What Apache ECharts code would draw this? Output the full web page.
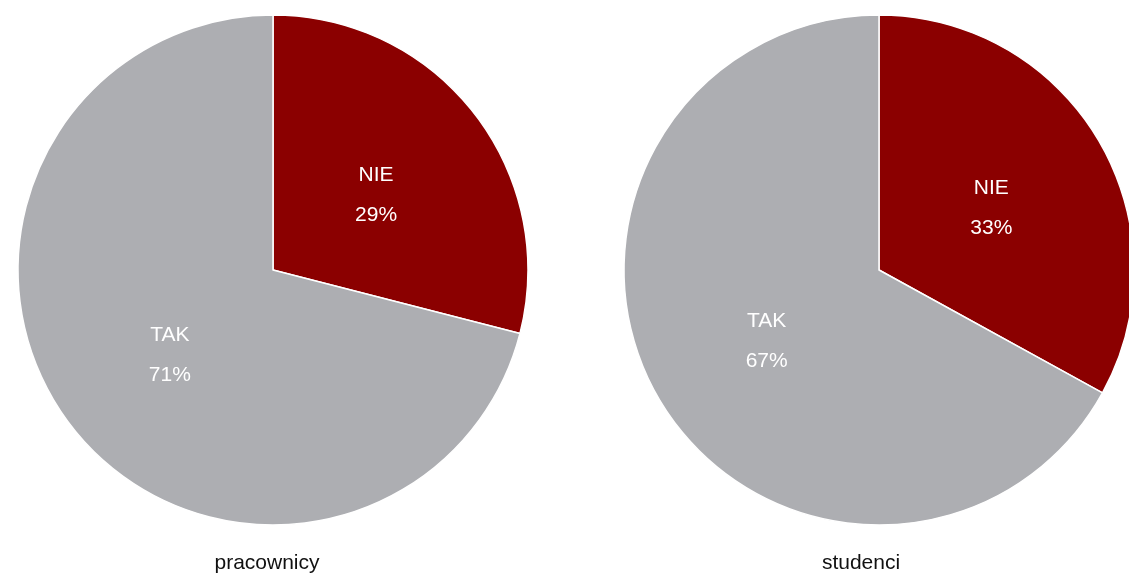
<html>
<head>
    <meta charset="utf-8">
</head>
<body style="margin:0">
    <script src="https://cdn.jsdelivr.net/npm/echarts@6/dist/echarts.min.js"></script>
    <div id="main" style="width: 1129px;height: 576px"></div>
    <script>
var answers = ['NIE', 'TAK'];
var pracownicy = [29, 71];
var studenci = [33, 67];
var groups = ['pracownicy', 'studenci'];

var colors = ['#8b0000', '#adaeb2'];

var myChart = echarts.init(document.getElementById('main'));

function makeSeries(vals, center) {
    return {
        type: 'pie',
        radius: 255,
        center: center,
        startAngle: 90,
        clockwise: true,
        animation: false,
        data: answers.map(function (a, i) {
            return { name: a, value: vals[i], itemStyle: { color: colors[i] } };
        }),
        itemStyle: {
            borderColor: '#fff',
            borderWidth: 1.5
        },
        label: {
            position: 'inside',
            formatter: '{b}\n{c}%',
            color: '#fff',
            fontSize: 21,
            lineHeight: 40,
            offset: [0, 5],
            fontFamily: 'Liberation Sans'
        },
        labelLine: { show: false },
        emphasis: { disabled: true }
    };
}

var titleStyle = { fontSize: 21, fontWeight: 'normal', color: '#111', fontFamily: 'Liberation Sans' };

option = {
    backgroundColor: '#fff',
    title: [
        { text: groups[0], left: 262, top: 548, textAlign: 'center', textStyle: titleStyle },
        { text: groups[1], left: 856, top: 548, textAlign: 'center', textStyle: titleStyle }
    ],
    series: [
        makeSeries(pracownicy, [273, 270]),
        makeSeries(studenci, [879, 270])
    ]
};

myChart.setOption(option);
    </script>
</body>
</html>
